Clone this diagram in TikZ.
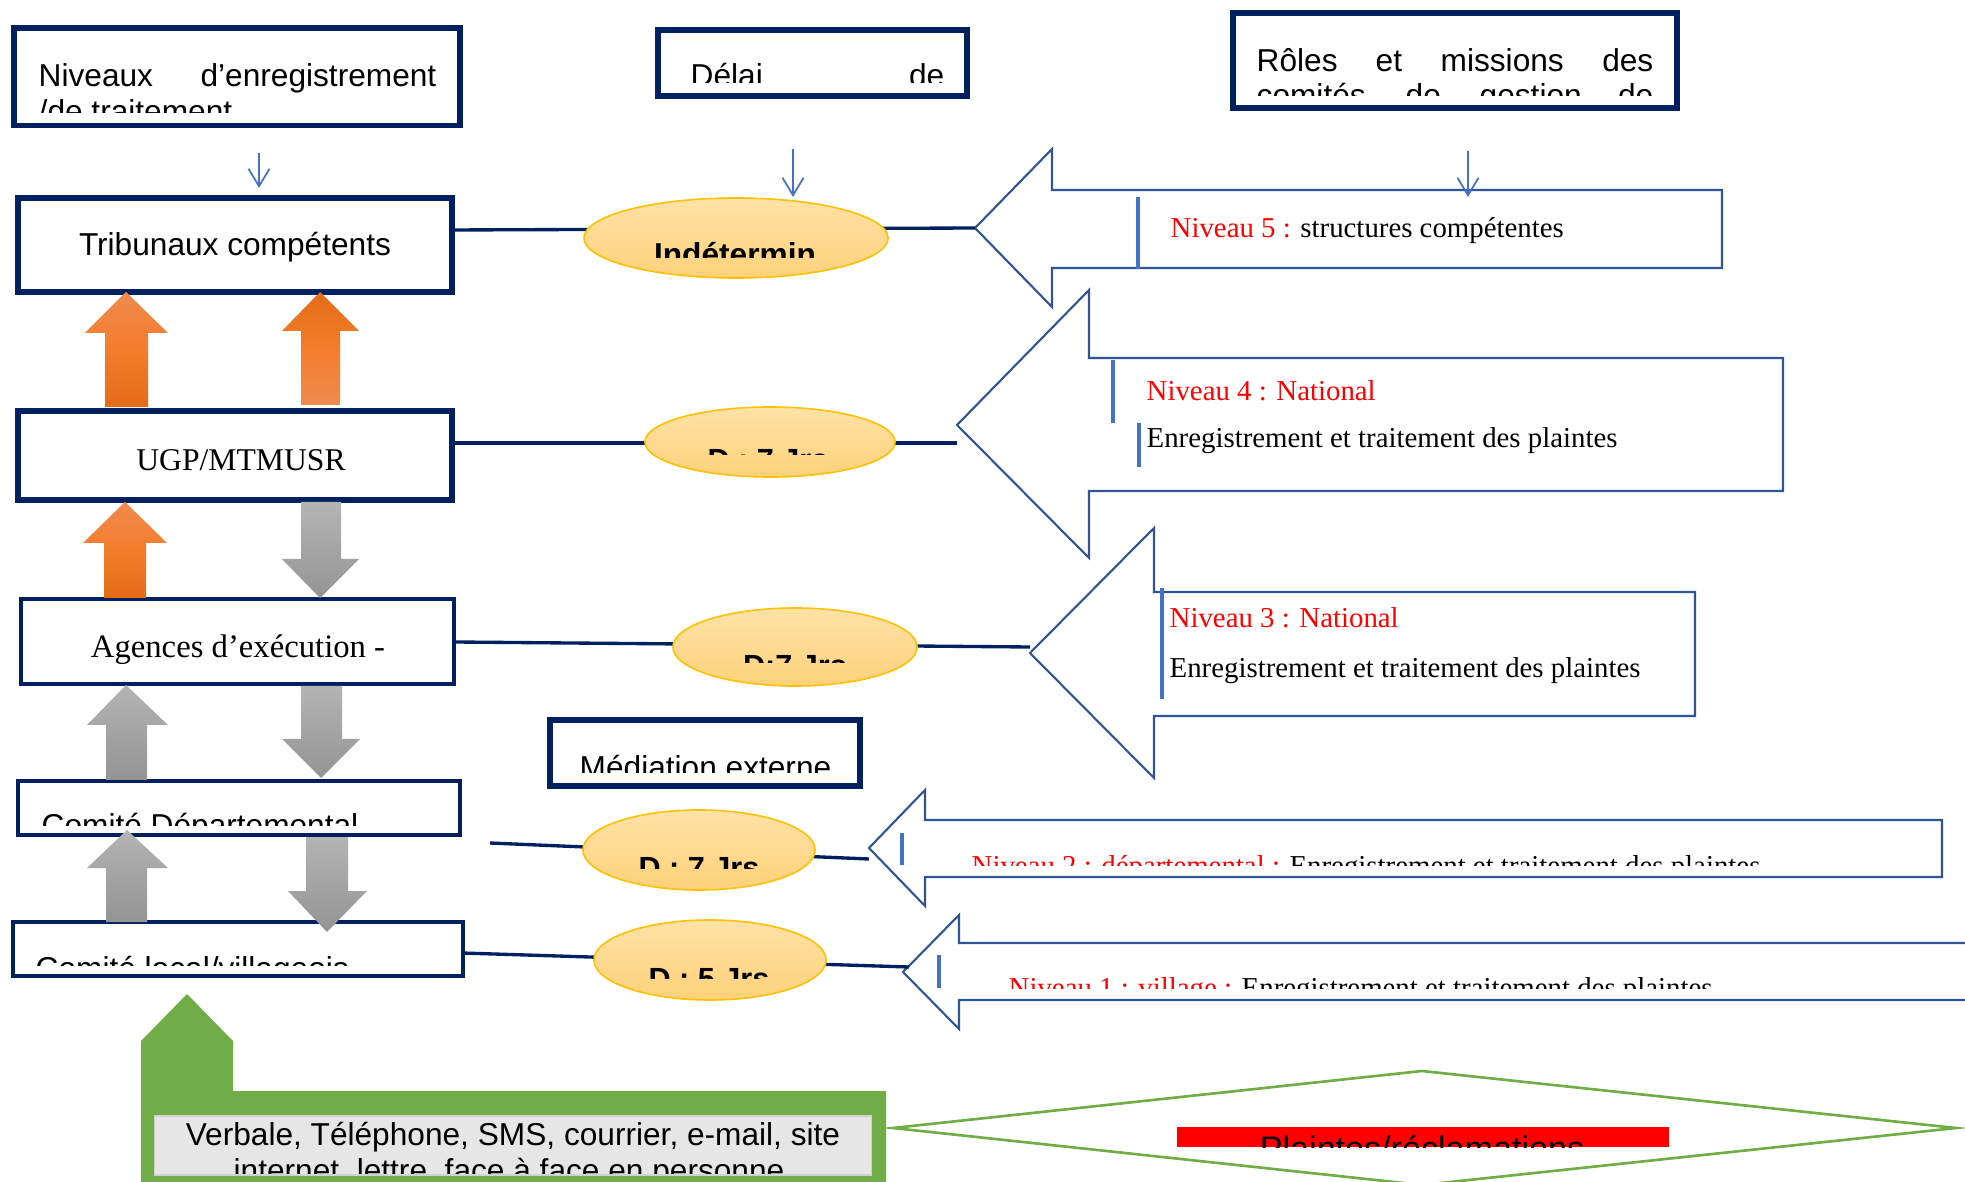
\documentclass[tikz,border=0pt]{standalone}
\usepackage{fontspec}
\setmainfont{Liberation Serif}
\newfontfamily\arialfont{Liberation Sans}
\usetikzlibrary{arrows.meta,shapes.geometric,positioning}

\definecolor{navy}{HTML}{002060}
\definecolor{arrowblue}{HTML}{2F5597}
\definecolor{barblue}{HTML}{4472C4}
\definecolor{bubbletop}{HTML}{FFE2A6}
\definecolor{bubblebot}{HTML}{FDD17A}
\definecolor{bubbleline}{HTML}{FFC000}
\definecolor{orangeL}{HTML}{F08A4E}
\definecolor{orangeM}{HTML}{F47D2C}
\definecolor{orangeD}{HTML}{E46C17}
\definecolor{grayL}{HTML}{B4B4B4}
\definecolor{grayD}{HTML}{949494}
\definecolor{leafgreen}{HTML}{70AD47}
\definecolor{palegray}{HTML}{E7E6E6}

\tikzset{
  frame/.style={draw=navy, line width=1.6pt, inner sep=0pt},
  midframe/.style={draw=navy, line width=1.2pt, inner sep=0pt},
  thinframe/.style={draw=navy, line width=0.95pt, inner sep=0pt},
  bubble/.style={ellipse, draw=bubbleline, line width=0.45pt, top color=bubbletop, bottom color=bubblebot, inner sep=0pt},
  link/.style={draw=navy, line width=0.95pt},
  pointer/.style={draw=barblue, line width=0.5pt, -{Straight Barb[length=5pt,width=6pt]}},
  bigarrow/.style={draw=arrowblue, line width=0.6pt, fill=white, line join=miter},
  bar/.style={draw=barblue, line width=1.1pt},
  upfade/.style={top color=orangeL, bottom color=orangeD, middle color=orangeM},
  downfade/.style={top color=orangeD, bottom color=orangeL, middle color=orangeM},
  grayfade/.style={top color=grayL, bottom color=grayD},
  sans/.style={font=\arialfont\fontsize{9pt}{10.8pt}\selectfont, inner sep=0pt},
  serif/.style={font=\fontsize{8.2pt}{9.8pt}\selectfont, inner sep=0pt},
  bold/.style={font=\arialfont\bfseries\fontsize{8.7pt}{10pt}\selectfont, inner sep=0pt}
}

\begin{document}
\begin{tikzpicture}[x=0.01cm, y=-0.01cm]
    \useasboundingbox (0,0) rectangle (1965,1182);
    \clip (0,0) rectangle (1965,1182);

    \coordinate (tip5) at (975,228);
    \coordinate (tip4) at (957,425);
    \coordinate (tip3) at (1030,653);
    \coordinate (tip2) at (869,848);
    \coordinate (tip1) at (903,972);

    \draw[bigarrow] (tip5) -- (1052,149) -- (1052,190) -- (1722,190) -- (1722,268) -- (1052,268) -- (1052,307) -- cycle;
    \draw[bigarrow] (tip4) -- (1089,290) -- (1089,358) -- (1783,358) -- (1783,491) -- (1089,491) -- (1089,558) -- cycle;
    \draw[bigarrow] (tip3) -- (1154,528) -- (1154,592) -- (1695,592) -- (1695,716) -- (1154,716) -- (1154,778) -- cycle;
    \draw[bigarrow] (tip2) -- (925,790) -- (925,820) -- (1942,820) -- (1942,877) -- (925,877) -- (925,906) -- cycle;
    \draw[bigarrow] (tip1) -- (959,915) -- (959,943) -- (2000,943) -- (2000,1000) -- (959,1000) -- (959,1029) -- cycle;

    \draw[bar] (1138,197) -- (1138,269);
    \draw[bar] (1113,360) -- (1113,423);
    \draw[bar] (1139,423) -- (1139,467);
    \draw[bar] (1162,588) -- (1162,699);
    \draw[bar] (902,833) -- (902,865);
    \draw[bar] (939,955) -- (939,988);

    \node[serif, anchor=base west] (lvl5) at (1170,238) {\textcolor{red}{Niveau 5 :} structures compétentes};
    \node[serif, anchor=base west] (lvl4) at (1146,401) {\textcolor{red}{Niveau 4 : National}};
    \node[serif, anchor=base west] (lvl4b) at (1146,448) {Enregistrement et traitement des plaintes};
    \node[serif, anchor=base west] (lvl3) at (1169,628) {\textcolor{red}{Niveau 3 : National}};
    \node[serif, anchor=base west] (lvl3b) at (1169,677) {Enregistrement et traitement des plaintes};
    \begin{scope}
        \clip (930,822) rectangle (1940,865);
        \node[serif, anchor=base west] (lvl2) at (971,876) {\textcolor{red}{Niveau 2 : départemental :} Enregistrement et traitement des plaintes};
    \end{scope}
    \begin{scope}
        \clip (962,945) rectangle (1965,988);
        \node[serif, anchor=base west] (lvl1) at (1008,998) {\textcolor{red}{Niveau 1 : village :} Enregistrement et traitement des plaintes};
    \end{scope}

    \node[frame, minimum width=4.46cm, minimum height=0.975cm] (levels) at (237,76.75) {};
    \node[frame, minimum width=3.09cm, minimum height=0.66cm] (delay) at (812.5,63) {};
    \node[frame, minimum width=4.44cm, minimum height=0.95cm] (roles) at (1455,60.5) {};

    \begin{scope}
        \clip (17,31) rectangle (457,113);
        \node[sans, anchor=base west] (levels1) at (38,87) {Niveaux};
        \node[sans, anchor=base east] (levels2) at (437,87) {d’enregistrement};
        \node[sans, anchor=base west] (levels3) at (38,123) {/de traitement};
    \end{scope}
    \begin{scope}
        \clip (661,33) rectangle (964,83);
        \node[sans, anchor=base west] (delay1) at (690,87) {Délai};
        \node[sans, anchor=base east] (delay2) at (945,87) {de};
    \end{scope}
    \begin{scope}
        \clip (1236,16) rectangle (1674,96);
        \node[sans, anchor=base west] (roles1) at (1256,72) {Rôles};
        \node[sans, anchor=base west] (roles2) at (1375,72) {et};
        \node[sans, anchor=base west] (roles3) at (1440,72) {missions};
        \node[sans, anchor=base east] (roles4) at (1654,72) {des};
        \node[sans, anchor=base west] (roles5) at (1256,107) {comités};
        \node[sans, anchor=base west] (roles6) at (1405,107) {de};
        \node[sans, anchor=base west] (roles7) at (1479,107) {gestion};
        \node[sans, anchor=base east] (roles8) at (1654,107) {de};
    \end{scope}

    \coordinate (d1a) at (259,153);
    \coordinate (d1b) at (259,188);
    \coordinate (d2a) at (793,149);
    \coordinate (d2b) at (793,197);
    \coordinate (d3a) at (1468,151);
    \coordinate (d3b) at (1468,197);
    \draw[pointer] (d1a) -- (d1b);
    \draw[pointer] (d2a) -- (d2b);
    \draw[pointer] (d3a) -- (d3b);

    \coordinate (s5) at (449,230);
    \coordinate (s4) at (455,443);
    \coordinate (t4) at (957,443);
    \coordinate (s3) at (455,642);
    \coordinate (t3) at (1030,647);
    \coordinate (s2) at (490,843);
    \coordinate (t2) at (869,859);
    \coordinate (s1) at (462,953);
    \coordinate (t1) at (909,967);
    \draw[link] (s5) -- (tip5);
    \draw[link] (s4) -- (t4);
    \draw[link] (s3) -- (t3);
    \draw[link] (s2) -- (t2);
    \draw[link] (s1) -- (t1);

    \node[bubble, minimum width=3.04cm, minimum height=0.80cm] (e5) at (736,238) {};
    \node[bubble, minimum width=2.50cm, minimum height=0.70cm] (e4) at (770,442) {};
    \node[bubble, minimum width=2.44cm, minimum height=0.78cm] (e3) at (795,647) {};
    \node[bubble, minimum width=2.32cm, minimum height=0.80cm] (e2) at (699,850) {};
    \node[bubble, minimum width=2.32cm, minimum height=0.80cm] (e1) at (710,960) {};

    \begin{scope}
        \clip (585,200) rectangle (887,258);
        \node[bold, font=\arialfont\bfseries\fontsize{9pt}{10pt}\selectfont, anchor=base] (e5text) at (735,266) {Indétermin};
    \end{scope}
    \begin{scope}
        \clip (646,408) rectangle (894,455);
        \node[bold, anchor=base] (e4text) at (768,471) {D : 7 Jrs};
    \end{scope}
    \begin{scope}
        \clip (674,609) rectangle (916,663);
        \node[bold, anchor=base] (e3text) at (795,676) {D:7 Jrs};
    \end{scope}
    \begin{scope}
        \clip (584,811) rectangle (814,868);
        \node[bold, anchor=base] (e2text) at (699,879) {D : 7 Jrs};
    \end{scope}
    \begin{scope}
        \clip (595,921) rectangle (824,978);
        \node[bold, anchor=base] (e1text) at (709,989) {D : 5 Jrs};
    \end{scope}

    \node[frame, minimum width=4.34cm, minimum height=0.94cm] (courts) at (235,245) {};
    \node[frame, minimum width=4.34cm, minimum height=0.89cm] (ugp) at (235,455.5) {};
    \node[midframe, minimum width=4.33cm, minimum height=0.85cm] (agencies) at (237.5,641.5) {};
    \node[frame, minimum width=3.10cm, minimum height=0.66cm] (mediation) at (705,753) {};
    \node[thinframe, minimum width=4.42cm, minimum height=0.54cm] (dept) at (239,808) {};
    \node[thinframe, minimum width=4.50cm, minimum height=0.54cm] (village) at (238,949) {};

    \node[sans, anchor=base] (courtstext) at (235,256) {Tribunaux compétents};
    \node[serif, font=\fontsize{9pt}{10.8pt}\selectfont, anchor=base] (ugptext) at (241,471) {UGP/MTMUSR};
    \node[serif, font=\fontsize{9.3pt}{11pt}\selectfont, anchor=base] (agenciestext) at (238,658) {Agences d’exécution -};
    \begin{scope}
        \clip (553,723) rectangle (857,773);
        \node[sans, anchor=base west] (mediationtext) at (579,778) {Médiation externe};
    \end{scope}
    \begin{scope}
        \clip (20,783) rectangle (458,825);
        \node[sans, anchor=base west] (depttext) at (41,837) {Comité Départemental};
    \end{scope}
    \begin{scope}
        \clip (15,924) rectangle (461,965);
        \node[sans, anchor=base west] (villagetext) at (35,979) {Comité local/villageois};
    \end{scope}

    \shade[upfade] (105,407) -- (105,333) -- (85,333) -- (126,292) -- (168,333) -- (148,333) -- (148,407) -- cycle;
    \shade[downfade] (301,405) -- (301,331) -- (282,331) -- (320,292) -- (359,331) -- (340,331) -- (340,405) -- cycle;
    \shade[upfade] (104,598) -- (104,543) -- (83,543) -- (125,502) -- (167,543) -- (146,543) -- (146,598) -- cycle;
    \shade[grayfade] (301,502) -- (341,502) -- (341,559) -- (359,559) -- (320,598) -- (282,559) -- (301,559) -- cycle;
    \shade[grayfade] (106,780) -- (106,725) -- (87,725) -- (126,685) -- (168,725) -- (147,725) -- (147,780) -- cycle;
    \shade[grayfade] (301,686) -- (342,686) -- (342,739) -- (360,739) -- (321,778) -- (282,739) -- (301,739) -- cycle;
    \shade[grayfade] (106,922) -- (106,868) -- (87,868) -- (127,830) -- (168,868) -- (147,868) -- (147,922) -- cycle;
    \shade[grayfade] (306,837) -- (348,837) -- (348,891) -- (367,891) -- (327,932) -- (288,891) -- (306,891) -- cycle;

    \fill[leafgreen] (141,1190) -- (141,1041) -- (187,994) -- (233,1041) -- (233,1091) -- (886,1091) -- (886,1190) -- cycle;
    \node[draw=white!82!black, line width=0.4pt, fill=palegray, minimum width=7.16cm, minimum height=0.59cm, inner sep=0pt] (channels) at (513,1145.5) {};
    \begin{scope}
        \clip (156,1117) rectangle (870,1173);
        \node[sans, anchor=base] (channels1) at (513,1146) {Verbale, Téléphone, SMS, courrier, e-mail, site};
        \node[sans, anchor=base] (channels2) at (509,1181) {internet, lettre, face à face en personne};
    \end{scope}

    \draw[leafgreen, line width=0.75pt] (893,1128) -- (1422,1071) -- (1956,1128) -- (1422,1185) -- cycle;
    \node[fill=red, minimum width=4.92cm, minimum height=0.2cm, inner sep=0pt] (claims) at (1423,1137) {};
    \begin{scope}
        \clip (1177,1127) rectangle (1669,1147);
        \node[sans, font=\arialfont\fontsize{9.7pt}{11pt}\selectfont, anchor=base] (claimstext) at (1422,1160) {Plaintes/réclamations};
    \end{scope}
\end{tikzpicture}
\end{document}
